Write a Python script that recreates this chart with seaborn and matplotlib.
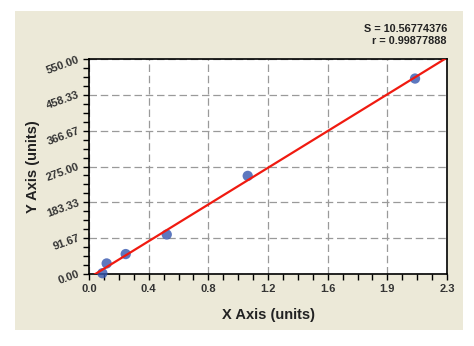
import matplotlib
matplotlib.use("Agg")
import matplotlib.pyplot as plt
import seaborn as sns
import numpy as np
import pandas as pd
from matplotlib.patches import Rectangle
from matplotlib.ticker import AutoMinorLocator

# Data
x_values = [0.087, 0.115, 0.239, 0.506, 1.033, 2.122]
y_values = [2.0, 27.0, 51.0, 101.0, 251.0, 500.0]
x_tick_labels = ["0.0", "0.4", "0.8", "1.2", "1.6", "1.9", "2.3"]
y_tick_labels = ["0.00", "91.67", "183.33", "275.00", "366.67", "458.33", "550.00"]
stat_lines = ["S = 10.56774376", "r = 0.99877888"]
x_max = 2.33
y_max = 550.0

df = pd.DataFrame({"x": x_values, "y": y_values})

sns.set_style("white")
plt.rcParams["font.family"] = ["Liberation Sans", "DejaVu Sans"]

fig = plt.figure(figsize=(4.74, 3.46), dpi=100)
fig.patch.set_facecolor("white")
W, H = 474, 346
fig.patches.append(Rectangle((15 / W, 1 - 330 / H), (463 - 15) / W, (330 - 11) / H,
                             transform=fig.transFigure, facecolor="#ECE9D8",
                             edgecolor="none", zorder=-10))

ax = fig.add_axes([89 / W, 1 - 274 / H, (447 - 89) / W, (274 - 59) / H])
ax.set_facecolor("white")
ax.set_xlim(0, x_max)
ax.set_ylim(0, y_max)

sns.regplot(data=df, x="x", y="y", ax=ax, ci=None, truncate=False,
            scatter_kws=dict(s=55, color="#3556AF", edgecolor="none", zorder=3, clip_on=False),
            line_kws=dict(color="#F01A10", lw=1.6, zorder=4))

ax.set_xlim(0, x_max)
ax.set_ylim(0, y_max)
xt = np.linspace(0, x_max, len(x_tick_labels))
yt = np.linspace(0, y_max, len(y_tick_labels))
ax.set_xticks(xt)
ax.set_xticklabels(x_tick_labels)
ax.set_yticks(yt)
ax.set_yticklabels(y_tick_labels, rotation=20, ha="right", va="center", rotation_mode="anchor")
ax.xaxis.set_minor_locator(AutoMinorLocator(4))
ax.yaxis.set_minor_locator(AutoMinorLocator(4))
ax.tick_params(axis="both", which="both", direction="out", length=4, width=1, color="black",
               bottom=True, left=True)
ax.tick_params(axis="both", which="major", labelsize=8, labelcolor="#333333", pad=3)
for lab in ax.get_xticklabels() + ax.get_yticklabels():
    lab.set_fontweight("bold")

ax.grid(True, which="major", color="#9a9a9a", linestyle=(0, (6, 3)), lw=0.9)
for s in ["left", "bottom", "top", "right"]:
    ax.spines[s].set_visible(True)
    ax.spines[s].set_color("black")
    ax.spines[s].set_linewidth(1.2)

ax.set_xlabel("X Axis (units)", fontsize=10.5, fontweight="bold", color="#222222", labelpad=10)
ax.set_ylabel("Y Axis (units)", fontsize=10.5, fontweight="bold", color="#222222", labelpad=4)

fig.text(447 / W, 1 - 29 / H, stat_lines[0], ha="right", va="center", fontsize=7.8,
         fontweight="bold", color="#222222")
fig.text(447 / W, 1 - 41 / H, stat_lines[1], ha="right", va="center", fontsize=7.8,
         fontweight="bold", color="#222222")

fig.savefig("out.png", dpi=100, facecolor=fig.get_facecolor())
